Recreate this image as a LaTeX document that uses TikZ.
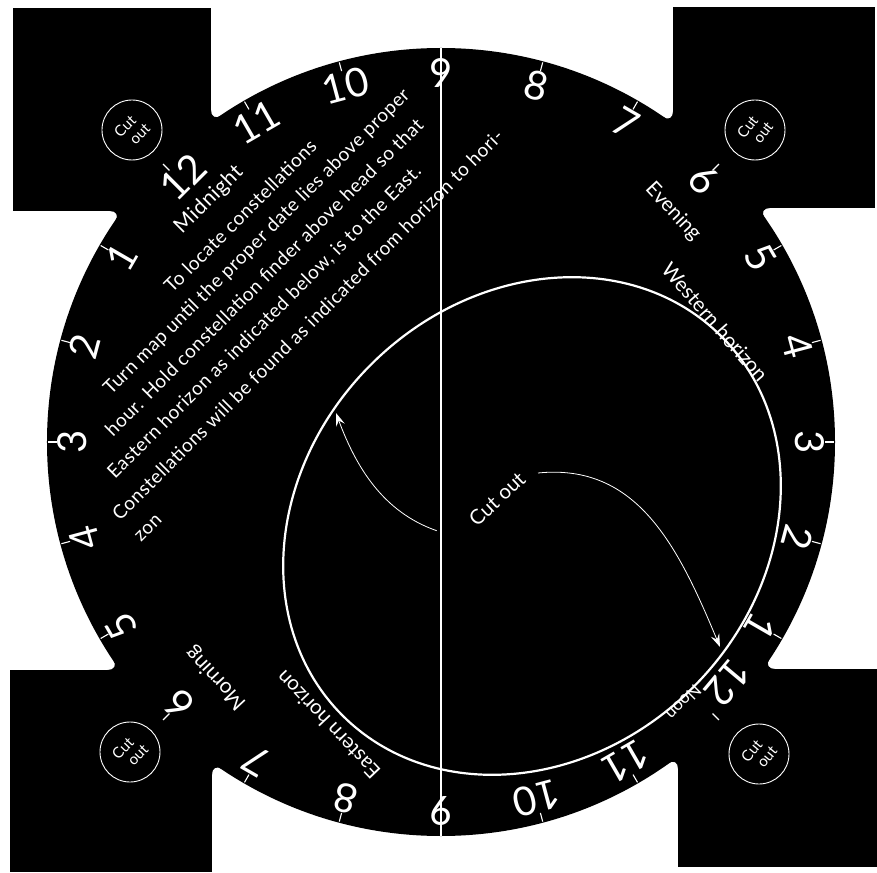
\documentclass[tikz,border=0pt]{standalone}
\usepackage{fontspec}
\setmainfont{Lato}
\newfontfamily\spacedfont{Lato}[LetterSpace=3]
\usetikzlibrary{calc,arrows.meta}
\newcommand\filletjoin[3]{\fill[black,rounded corners=12pt] (#2) -- (#1) -- (#3) -- ($2*(#1)-0.5*(#2)-0.5*(#3)$) -- cycle;}
\begin{document}
\begin{tikzpicture}[x=1pt,y=1pt,
  wt/.style={text=white, font=\fontsize{20.5}{20.5}\selectfont, inner sep=0pt},
  bt/.style={text=white, font=\spacedfont\fontsize{19}{19}\selectfont, inner sep=0pt, anchor=base west, rotate=45},
  hr/.style={text=white, font=\fontsize{40}{40}\selectfont, inner sep=0pt},
  tk/.style={draw=white, line width=1.1pt},
  cutc/.style={draw=white, line width=0.9pt, circle, minimum size=60pt, inner sep=0pt},
  cutt/.style={text=white, font=\fontsize{15}{15.5}\selectfont, align=left, inner sep=0pt},
  arr/.style={draw=white, line width=0.8pt, -{Stealth[length=13pt,width=9pt,inset=5pt]}},
  ]
\useasboundingbox (-441,-430) rectangle (436,442);
\fill[white] (-441,-430) rectangle (436,442);
% plate
\fill[black] (0,0) circle (394);
\fill[black] (-428,231) rectangle (-230,434);
\fill[black] (232,234) rectangle (434,435);
\fill[black] (-431,-430) rectangle (-229,-228);
\fill[black] (237,-425) rectangle (436,-227);
\filletjoin{-230,319.9}{-230,360}{119.7:394}
\filletjoin{-319.2,231}{-360,231}{150.1:394}
\filletjoin{-321.3,-228}{-360,-228}{209.4:394}
\filletjoin{-229,-320.6}{-229,-360}{240.5:394}
\filletjoin{237,-314.7}{237,-355}{301:394}
\filletjoin{322,-227}{360,-227}{330.8:394}
\filletjoin{317,234}{357,234}{30.4:394}
\filletjoin{232,318.5}{232,358}{59.9:394}
% meridian line
\coordinate (top) at (90:394);
\coordinate (bot) at (270:394);
\draw[white, line width=1.2pt] (top) -- (bot);
% ticks
\foreach \a in {0,15,...,345} \draw[tk] (\a:384) -- (\a:393);
% hour numbers
\foreach \a/\n in {90/9,105/10,120/11,150/1,165/2,180/3,195/4,210/5,240/7,255/8,270/9,285/10,300/11,330/1,345/2,0/3,15/4,30/5,60/7,75/8}
  \node[hr, rotate=\a-90] (h\a) at (\a:369) {\n};
\node[hr, rotate=45] (h135) at (-258,265) {12};
\node[hr, rotate=-45] (h45) at (263,262) {6};
\node[hr, rotate=135] (h225) at (-262,-262) {6};
\node[hr, rotate=-130] (h315) at (-40:374) {12};
% horizon ellipse
\draw[white, line width=2.2pt, rotate around={45:(91,-84)}] (91,-84) ellipse [x radius=268, y radius=228];
% instruction text
\node[bt, font=\spacedfont\fontsize{21}{21}\selectfont] (l1) at (-259,207) {Midnight};
\node[bt] (l2) at (-269,148) {To locate constellations};
\node[bt] (l3) at (-330,46) {Turn map until the proper date lies above proper};
\node[bt] (l4) at (-328,4) {hour. Hold constellation finder above head so that};
\node[bt] (l5) at (-326,-38) {Eastern horizon as indicated below, is to the East.};
\node[bt] (l6) at (-321,-80) {Constellations will be found as indicated from horizon to hori-};
\node[bt] (l7) at (-300,-101) {zon};
% other labels
\node[wt, rotate=-47] (eve) at (232,230) {Evening};
\node[wt, rotate=-49] (wh) at (274,120) {Western horizon};
\node[wt, font=\fontsize{21}{21}\selectfont, rotate=133] (mor) at (-225,-236) {Morning};
\node[wt, rotate=133.5] (eh) at (-113,-283) {Eastern horizon};
\node[wt, font=\fontsize{17}{17}\selectfont, rotate=-135] (noon) at (-47:356) {Noon};
\node[wt, rotate=43] (co) at (56,-57) {Cut out};
% cut-out circles
\node[cutc] (c1) at (-309,312) {};
\node[cutt, rotate=45] (t1) at (c1) {Cut\\\hspace*{6pt}out};
\node[cutc] (c2) at (314,312) {};
\node[cutt, rotate=52] (t2) at (c2) {Cut\\\hspace*{6pt}out};
\node[cutc] (c3) at (-311,-310) {};
\node[cutt, rotate=46] (t3) at (c3) {Cut\\\hspace*{6pt}out};
\node[cutc] (c4) at (318,-312) {};
\node[cutt, rotate=50] (t4) at (c4) {Cut\\\hspace*{6pt}out};
% arrows
\coordinate (a1s) at (-4.3,-88.7);
\coordinate (a1e) at (-105,29);
\draw[arr] (a1s) .. controls (-58,-70) and (-85,-25) .. (a1e);
\coordinate (a2s) at (97,-31);
\coordinate (a2e) at (279,-205);
\draw[arr] (a2s) .. controls (196,-21) and (237,-104) .. (a2e);
\end{tikzpicture}
\end{document}
